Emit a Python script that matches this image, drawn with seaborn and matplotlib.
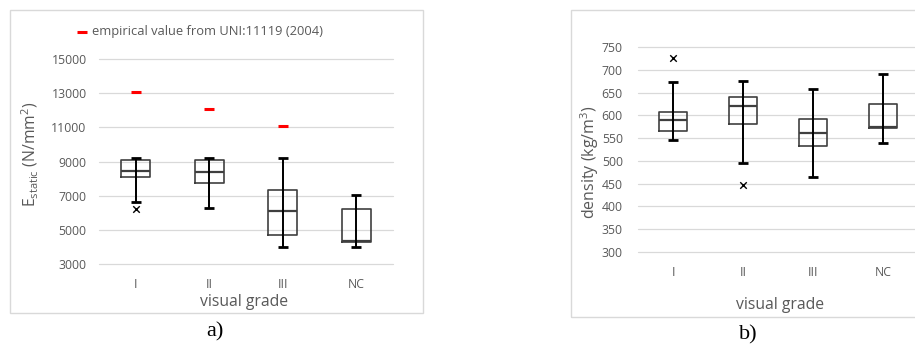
import numpy as np
import pandas as pd
import seaborn as sns
import matplotlib.pyplot as plt
from matplotlib.patches import Rectangle

# visual grades
grades = ["I", "II", "III", "NC"]

# E static (N/mm2) five-number summaries
e_whislo = [6650, 6280, 4000, 4000]
e_q1 = [8110, 7760, 4700, 4290]
e_med = [8460, 8390, 6120, 4330]
e_q3 = [9090, 9090, 7310, 6200]
e_whishi = [9220, 9220, 9220, 7060]
e_out_grade = ["I"]
e_out_val = [6200]
e_uni = [13050, 12050, 11050]   # empirical values UNI:11119 (2004)
e_uni_grade = ["I", "II", "III"]

# density (kg/m3) five-number summaries
d_whislo = [545, 495, 465, 539]
d_q1 = [565, 581, 532, 573]
d_med = [590, 620, 561, 575]
d_q3 = [608, 641, 592, 624]
d_whishi = [673, 675, 657, 691]
d_out_grade = ["I", "II"]
d_out_val = [726, 446]

sns.set_theme(style="white")
plt.rcParams["font.family"] = ["Open Sans", "DejaVu Sans"]
plt.rcParams["mathtext.fontset"] = "custom"
plt.rcParams["mathtext.rm"] = "Open Sans"

GRAY = "#595959"
GRID = "#d9d9d9"
BOX = "#3f3f3f"


def summary_frame(lo, q1, med, q3, hi):
    rows = []
    for g, a, b, c, d, e in zip(grades, lo, q1, med, q3, hi):
        for v in (a, b, c, d, e):
            rows.append({"grade": g, "value": v})
    return pd.DataFrame(rows)


def draw_panel(ax, lo, q1, med, q3, hi, out_g, out_v, ylim, step):
    df = summary_frame(lo, q1, med, q3, hi)
    sns.boxplot(data=df, x="grade", y="value", order=grades, ax=ax,
                whis=(0, 100), fill=False, width=0.4, showcaps=False,
                color=BOX, linewidth=1.2, showfliers=False,
                medianprops={"linewidth": 1.6, "color": BOX})
    pos = np.arange(len(grades))
    # whisker line runs through the box, Excel style
    ax.vlines(pos, lo, hi, color="black", linewidth=1.4, zorder=4)
    caps = pd.DataFrame({"x": np.concatenate([pos, pos]),
                         "y": np.concatenate([lo, hi])})
    sns.scatterplot(data=caps, x="x", y="y", ax=ax, marker="_", s=46,
                    linewidth=2, color="black", zorder=5, legend=False)
    outs = pd.DataFrame({"x": [grades.index(g) for g in out_g], "y": out_v})
    sns.scatterplot(data=outs, x="x", y="y", ax=ax, marker="x", s=22,
                    linewidth=1.0, color="black", zorder=5, legend=False)
    ax.set_ylim(*ylim)
    ax.set_xlim(-0.5, len(grades) - 0.5)
    ax.set_yticks(np.arange(ylim[0], ylim[1] + 1, step))
    ax.yaxis.grid(True, color=GRID, linewidth=0.9)
    ax.set_axisbelow(True)
    for s in ax.spines.values():
        s.set_visible(False)
    ax.tick_params(axis="both", length=0, colors=GRAY, labelsize=8.8)
    ax.set_xlabel("")
    ax.set_ylabel("")
    for gl in ax.get_ygridlines():
        gl.set_clip_on(False)


fig = plt.figure(figsize=(9.15, 3.5), dpi=100)

# panel frames
fig.patches.append(Rectangle((0.0109, 0.1057), 0.4514, 0.8657, transform=fig.transFigure,
                             fill=False, edgecolor=GRID, linewidth=1.0))
fig.patches.append(Rectangle((0.624, 0.0943), 0.40, 0.877, transform=fig.transFigure,
                             fill=False, edgecolor=GRID, linewidth=1.0, clip_on=False))

ax1 = fig.add_axes([0.1082, 0.2457, 0.3213, 0.5857])
draw_panel(ax1, e_whislo, e_q1, e_med, e_q3, e_whishi, e_out_grade, e_out_val,
           (3000, 15000), 2000)
ax1.tick_params(axis="y", pad=9)
ax1.tick_params(axis="x", pad=10)
uni = pd.DataFrame({"x": [grades.index(g) for g in e_uni_grade], "y": e_uni})
sns.scatterplot(data=uni, x="x", y="y", ax=ax1, marker="_", s=50, linewidth=2.2,
                color="#ff0000", zorder=6, label="empirical value from UNI:11119 (2004)")
ax1.set_xlabel("")
ax1.set_ylabel("")
leg = ax1.legend(loc="center left", bbox_to_anchor=(0.085, 0.909),
                 bbox_transform=fig.transFigure, frameon=False, fontsize=9.3,
                 handlelength=0.6, handletextpad=0.5, borderpad=0, borderaxespad=0)
for t in leg.get_texts():
    t.set_color(GRAY)

ax2 = fig.add_axes([0.6973, 0.28, 0.306, 0.5857])
draw_panel(ax2, d_whislo, d_q1, d_med, d_q3, d_whishi, d_out_grade, d_out_val,
           (300, 750), 50)
ax2.tick_params(axis="y", pad=11)
ax2.tick_params(axis="x", pad=10)

fig.text(0.2667, 0.137, "visual grade", ha="center", va="center", fontsize=11.3, color=GRAY)
fig.text(0.0328, 0.56, r"E$_{\mathregular{static}}$ (N/mm$^{\mathregular{2}}$)", rotation=90,
         ha="center", va="center", fontsize=11.3, color=GRAY)
fig.text(0.8525, 0.1286, "visual grade", ha="center", va="center", fontsize=11.3, color=GRAY)
fig.text(0.6448, 0.537, r"density (kg/m$^{\mathregular{3}}$)", rotation=90,
         ha="center", va="center", fontsize=11.5, color=GRAY)
fig.text(0.235, 0.051, "a)", ha="center", va="center", fontsize=16,
         family="Liberation Serif", color="black")
fig.text(0.8175, 0.043, "b)", ha="center", va="center", fontsize=16,
         family="Liberation Serif", color="black")

fig.savefig("out.png", dpi=100)
